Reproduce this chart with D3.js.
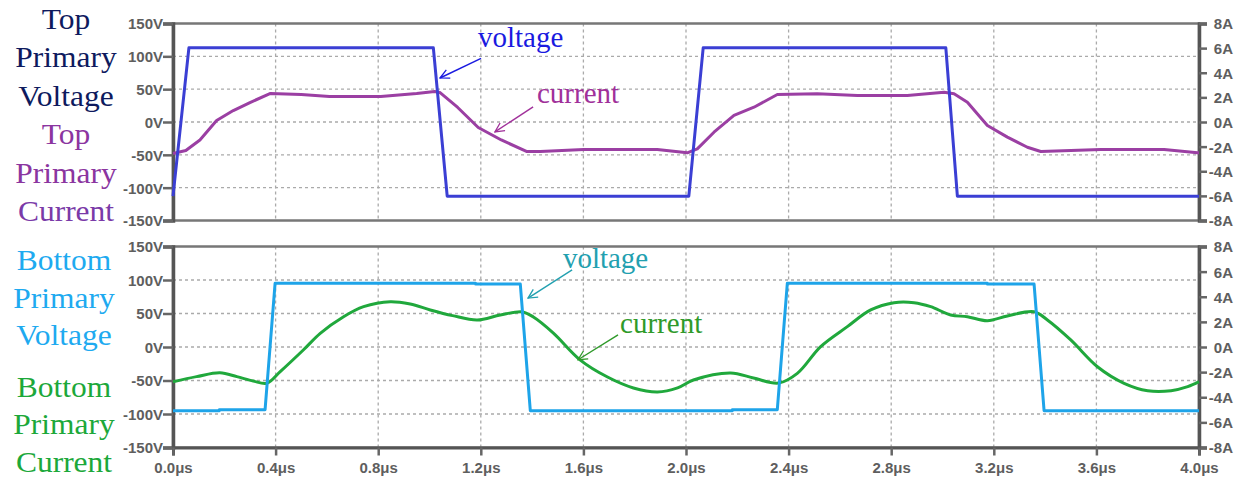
<!DOCTYPE html>
<html>
<head>
<meta charset="utf-8">
<script src="https://cdn.jsdelivr.net/npm/d3@7"></script>
<style>
  body { margin: 0; background: #fff; }
  .tick text { font-family: "Liberation Sans", Arial, sans-serif; font-weight: bold; font-size: 15px; fill: #5e5e5e; }
  .tick line { stroke: #666; stroke-width: 2.5; }
  .grid line { stroke: #aaa; stroke-width: 1.3; stroke-dasharray: 3,3; }
  .side { font-family: "Liberation Serif", "Times New Roman", serif; font-size: 30px; }
  .note { font-family: "Liberation Serif", "Times New Roman", serif; font-size: 29px; }
</style>
</head>
<body>
<div id="chart"></div>
<script>
// time ticks (us) and axis ticks
var timeTicks = [0, 0.4, 0.8, 1.2, 1.6, 2.0, 2.4, 2.8, 3.2, 3.6, 4.0];
var voltTicks = [150, 100, 50, 0, -50, -100, -150];
var ampTicks = [8, 6, 4, 2, 0, -2, -4, -6, -8];

// top primary voltage (V) vs time (us)
var topVoltT = [0, 0.062, 1.015, 1.069, 2.011, 2.067, 3.013, 3.058, 4.0];
var topVoltV = [-113, 113, 113, -113, -113, 113, 113, -113, -113];

// top primary current (A)
var topCurT = [0, 0.05, 0.105, 0.17, 0.235, 0.30, 0.38, 0.50, 0.61, 0.81, 0.95, 1.02, 1.04, 1.11, 1.19, 1.28, 1.38,
  1.432, 1.601, 1.888, 2.005, 2.044, 2.109, 2.187, 2.265, 2.356, 2.512, 2.668, 2.863, 3.006, 3.045, 3.097, 3.175,
  3.253, 3.331, 3.383, 3.617, 3.864, 3.994, 4.0];
var topCurA = [-2.56, -2.32, -1.46, 0.12, 0.93, 1.58, 2.32, 2.23, 2.07, 2.07, 2.32, 2.48, 2.40, 1.18, -0.45, -1.46, -2.40,
  -2.40, -2.23, -2.23, -2.50, -2.18, -0.83, 0.53, 1.20, 2.23, 2.29, 2.15, 2.15, 2.42, 2.29, 1.61, -0.28,
  -1.23, -2.05, -2.40, -2.23, -2.23, -2.50, -2.50];

// bottom primary voltage (V)
var botVoltT = [0, 0.18, 0.18, 0.359, 0.398, 1.18, 1.18, 1.354, 1.393, 2.18, 2.18, 2.356, 2.395, 3.175, 3.175, 3.357, 3.396, 4.0];
var botVoltV = [-95, -95, -93.5, -93.5, 95, 95, 94, 94, -95, -95, -93.5, -93.5, 95, 95, 94, 94, -95, -95];

// bottom primary current (A)
var botCurT = [0, 0.092, 0.183, 0.249, 0.313, 0.366, 0.418, 0.508, 0.574, 0.665, 0.743, 0.847, 0.925, 1.003, 1.09, 1.186,
  1.276, 1.362, 1.405, 1.483, 1.588, 1.694, 1.795, 1.889, 1.967, 2.029, 2.174, 2.263, 2.361, 2.434, 2.525, 2.629,
  2.72, 2.811, 2.889, 2.954, 3.032, 3.097, 3.175, 3.253, 3.357, 3.409, 3.50, 3.604, 3.708, 3.80, 3.891, 3.956, 4.0];
var botCurA = [-2.76, -2.36, -2.05, -2.36, -2.71, -2.89, -1.96, -0.24, 1.09, 2.41, 3.21, 3.61, 3.42, 2.95, 2.5, 2.15,
  2.55, 2.79, 2.39, 1.11, -1.04, -2.39, -3.26, -3.58, -3.26, -2.63, -2.07, -2.47, -2.87, -2.10, 0.03, 1.62,
  2.95, 3.53, 3.53, 3.21, 2.55, 2.41, 2.09, 2.47, 2.81, 2.15, 0.56, -1.57, -2.89, -3.48, -3.48, -3.16, -2.76];

var W = 1243, H = 480;
var svg = d3.select('#chart').append('svg')
  .attr('width', W)
  .attr('height', H);

var x = d3.scaleLinear().domain([0, 4]).range([173, 1199]);

var panels = [
  {
    top: 23.5, bottom: 220.5, xLabels: false,
    volt: { t: topVoltT, v: topVoltV, color: '#3b3fd4' },
    cur: { t: topCurT, v: topCurA, color: '#9b3fa3', curve: d3.curveLinear },
    side: [
      { text: 'Top', color: '#0e1a5e' }, { text: 'Primary', color: '#0e1a5e' }, { text: 'Voltage', color: '#0e1a5e' },
      { text: 'Top', color: '#8b35a0' }, { text: 'Primary', color: '#8b35a0' }, { text: 'Current', color: '#7a3aa8' }
    ],
    sideBase: [28.5, 67, 105.5, 144, 182.5, 221], sideX: 66,
    notes: [
      { text: 'voltage', color: '#1a1ae0', at: [1.189, 114], from: [1.201, 97], to: [1.041, 67] },
      { text: 'current', color: '#a0309a', at: [1.419, 29], from: [1.404, 23], to: [1.255, -15] }
    ]
  },
  {
    top: 246.5, bottom: 447.5, xLabels: true,
    volt: { t: botVoltT, v: botVoltV, color: '#1ea4e9' },
    cur: { t: botCurT, v: botCurA, color: '#20a83c', curve: d3.curveCatmullRom },
    side: [
      { text: 'Bottom', color: '#1eaaf0' }, { text: 'Primary', color: '#1eaaf0' }, { text: 'Voltage', color: '#1eaaf0' },
      { text: 'Bottom', color: '#1ca83a' }, { text: 'Primary', color: '#1ca83a' }, { text: 'Current', color: '#1ca83a' }
    ],
    sideBase: [270, 308, 345, 397, 434, 472], sideX: 64,
    notes: [
      { text: 'voltage', color: '#22a0b0', at: [1.520, 118], from: [1.556, 115], to: [1.384, 73] },
      { text: 'current', color: '#2f9a2a', at: [1.743, 21], from: [1.735, 18], to: [1.579, -19] }
    ]
  }
];

var defs = svg.append('defs');

panels.forEach(function(p, pi) {
  var yV = d3.scaleLinear().domain([-150, 150]).range([p.bottom, p.top]);
  var yA = d3.scaleLinear().domain([-8, 8]).range([p.bottom, p.top]);
  var g = svg.append('g');

  // dotted grid
  var grid = g.append('g').attr('class', 'grid');
  grid.selectAll('.hg').data(voltTicks.slice(1, -1)).enter().append('line')
    .attr('x1', x(0)).attr('x2', x(4))
    .attr('y1', function(d) { return yV(d); }).attr('y2', function(d) { return yV(d); });
  grid.selectAll('.vg').data(timeTicks.slice(1, -1)).enter().append('line')
    .attr('y1', p.top).attr('y2', p.bottom)
    .attr('x1', function(d) { return x(d); }).attr('x2', function(d) { return x(d); });

  // frame
  g.append('rect')
    .attr('x', x(0)).attr('y', p.top)
    .attr('width', x(4) - x(0)).attr('height', p.bottom - p.top)
    .attr('fill', 'none').attr('stroke', '#777').attr('stroke-width', 2.5);

  // left axis (V)
  var la = g.append('g').attr('transform', 'translate(' + x(0) + ',0)')
    .call(d3.axisLeft(yV).tickValues(voltTicks).tickSize(10).tickPadding(0)
      .tickFormat(function(d) { return d + 'V'; }));
  la.select('.domain').attr('stroke', '#555').attr('stroke-width', 3.5);
  la.selectAll('.tick text').attr('dy', '0.36em');

  // right axis (A)
  var ra = g.append('g').attr('transform', 'translate(' + x(4) + ',0)')
    .call(d3.axisRight(yA).tickValues(ampTicks).tickSize(8)
      .tickFormat(function(d) { return d + 'A'; }));
  ra.select('.domain').attr('stroke', '#555').attr('stroke-width', 3.5);
  ra.selectAll('.tick text').attr('text-anchor', 'end').attr('x', 34).attr('dy', '0.36em');

  if (p.xLabels) {
    var ba = g.append('g').attr('transform', 'translate(0,' + p.bottom + ')')
      .call(d3.axisBottom(x).tickValues(timeTicks).tickSize(8).tickPadding(7)
        .tickFormat(function(d) { return d3.format('.1f')(d) + 'μs'; }));
    ba.select('.domain').attr('stroke', '#555').attr('stroke-width', 3);
  }

  // series
  var lineV = d3.line()
    .x(function(d) { return x(d[0]); })
    .y(function(d) { return yV(d[1]); });
  var lineA = d3.line()
    .curve(p.cur.curve)
    .x(function(d) { return x(d[0]); })
    .y(function(d) { return yA(d[1]); });

  g.append('path')
    .datum(d3.zip(p.cur.t, p.cur.v))
    .attr('fill', 'none').attr('stroke', p.cur.color).attr('stroke-width', 3)
    .attr('stroke-linejoin', 'round')
    .attr('d', lineA);
  g.append('path')
    .datum(d3.zip(p.volt.t, p.volt.v))
    .attr('fill', 'none').attr('stroke', p.volt.color).attr('stroke-width', 3)
    .attr('stroke-linejoin', 'round')
    .attr('d', lineV);

  // side labels
  p.side.forEach(function(s, i) {
    svg.append('text')
      .attr('class', 'side')
      .attr('text-anchor', 'middle')
      .attr('transform', 'translate(' + p.sideX + ',' + p.sideBase[i] + ') scale(1.05,1)')
      .attr('fill', s.color)
      .text(s.text);
  });

  // annotations with arrows
  p.notes.forEach(function(n, i) {
    var id = 'arr' + pi + '_' + i;
    defs.append('marker')
      .attr('id', id)
      .attr('viewBox', '0 0 12 12')
      .attr('refX', 11).attr('refY', 6)
      .attr('markerWidth', 11).attr('markerHeight', 11)
      .attr('markerUnits', 'userSpaceOnUse')
      .attr('orient', 'auto')
      .append('path')
      .attr('d', 'M1,1 L11,6 L1,11')
      .attr('fill', 'none').attr('stroke', n.color).attr('stroke-width', 1.4);
    g.append('line')
      .attr('x1', x(n.from[0])).attr('y1', yV(n.from[1]))
      .attr('x2', x(n.to[0])).attr('y2', yV(n.to[1]))
      .attr('stroke', n.color).attr('stroke-width', 1.4)
      .attr('marker-end', 'url(#' + id + ')');
    g.append('text')
      .attr('class', 'note')
      .attr('x', x(n.at[0])).attr('y', yV(n.at[1]))
      .attr('fill', n.color)
      .text(n.text);
  });
});
</script>
</body>
</html>
